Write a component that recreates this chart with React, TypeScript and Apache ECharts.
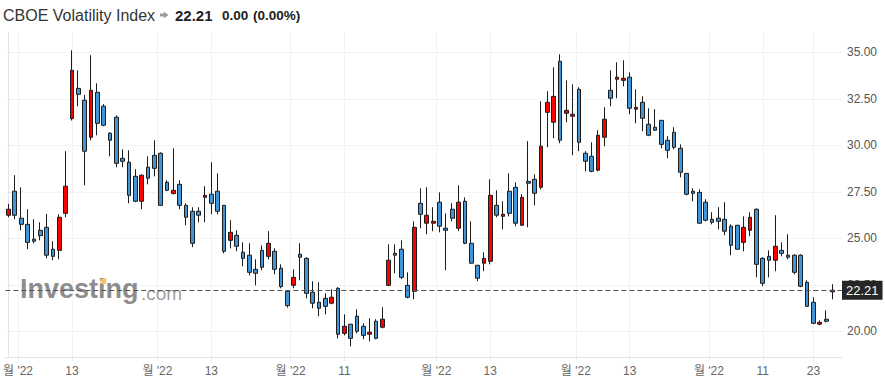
import React, { useEffect, useRef } from 'react';
import * as echarts from 'echarts';

// OHLC values (daily candles)
const opens = [
  26.24, 27.53, 26.08, 25.75, 24.95, 25.43, 25.59, 24.41, 24.35, 26.34,
  31.43, 33.06, 32.42, 30.43, 32.85, 32.10, 30.65, 31.51, 29.30, 29.09,
  28.33, 26.99, 28.82, 29.46, 29.57, 28.01, 27.40, 27.90, 26.77, 26.45,
  26.45, 27.20, 27.37, 27.53, 26.77, 24.89, 25.16, 24.25, 24.09, 23.33,
  24.35, 24.03, 24.30, 23.39, 22.15, 22.47, 24.14, 23.92, 22.10, 21.56,
  21.77, 21.51, 22.31, 19.89, 20.38, 20.81, 20.27, 19.84, 20.54, 20.22,
  22.47, 24.19, 24.41, 22.47, 22.15, 26.88, 25.81, 25.81, 26.94, 25.54,
  26.56, 25.54, 26.99, 24.73, 23.55, 23.66, 23.76, 26.77, 26.18, 27.53,
  27.74, 25.70, 28.06, 28.17, 27.74, 31.77, 31.24, 34.52, 31.72, 31.56,
  33.01, 29.57, 29.41, 28.66, 30.43, 32.96, 33.55, 33.49, 33.66, 31.94,
  32.31, 31.13, 30.97, 31.34, 30.27, 30.70, 29.84, 28.49, 27.53, 27.47,
  26.94, 26.02, 26.08, 26.02, 25.65, 25.70, 24.78, 25.43, 26.56, 23.92,
  24.03, 23.82, 24.35, 24.09, 24.09, 24.09, 22.63, 21.56, 20.38, 20.65,
  22.12,
];
const closes = [
  26.56, 26.24, 25.75, 24.78, 24.84, 25.14, 24.09, 24.03, 26.13, 27.80,
  34.03, 32.74, 29.68, 32.96, 31.18, 31.08, 30.27, 29.03, 29.14, 27.31,
  26.99, 28.39, 28.23, 28.76, 26.77, 27.58, 27.58, 26.77, 26.13, 24.73,
  26.24, 27.31, 26.88, 26.45, 24.30, 25.32, 24.57, 23.92, 23.17, 23.12,
  23.44, 24.73, 23.33, 22.40, 21.38, 22.90, 23.98, 22.04, 21.51, 21.24,
  21.34, 21.83, 19.84, 20.27, 19.62, 20.00, 19.78, 19.95, 19.62, 20.65,
  23.82, 24.09, 22.90, 21.83, 25.59, 26.29, 26.24, 25.91, 25.65, 25.43,
  26.08, 26.94, 24.73, 23.66, 22.85, 23.92, 27.31, 26.24, 26.29, 26.34,
  25.81, 27.20, 27.96, 27.42, 29.95, 32.31, 32.63, 30.27, 31.88, 31.67,
  30.16, 29.14, 28.60, 30.54, 31.40, 32.53, 33.66, 33.60, 31.99, 32.04,
  31.45, 30.54, 30.81, 30.05, 29.73, 29.89, 28.55, 27.37, 27.42, 25.81,
  25.97, 25.86, 25.91, 25.38, 24.62, 24.41, 25.59, 26.13, 23.60, 22.58,
  23.82, 24.57, 24.19, 23.98, 23.17, 22.42, 21.34, 20.43, 20.48, 20.54,
  22.21,
];
const lows = [
  26.13, 26.02, 25.43, 24.41, 24.73, 24.89, 23.93, 23.82, 23.87, 26.13,
  31.33, 32.10, 27.85, 30.27, 30.54, 31.02, 29.41, 28.82, 28.82, 26.88,
  26.94, 26.56, 27.90, 28.33, 26.75, 27.53, 27.37, 26.56, 25.70, 24.52,
  25.86, 25.86, 26.29, 26.29, 24.19, 24.46, 24.30, 23.49, 23.01, 22.47,
  23.28, 23.87, 23.06, 22.31, 21.27, 22.31, 22.74, 21.77, 21.24, 20.81,
  20.91, 21.45, 19.62, 19.78, 19.19, 19.89, 19.57, 19.46, 19.57, 20.16,
  22.42, 23.12, 22.80, 21.77, 21.72, 25.54, 25.22, 25.38, 25.32, 23.28,
  25.91, 25.38, 24.68, 23.64, 22.69, 23.23, 23.60, 26.13, 25.48, 26.18,
  25.65, 25.68, 25.59, 26.77, 27.63, 29.89, 30.38, 30.11, 31.24, 29.46,
  29.68, 28.60, 28.55, 28.60, 29.95, 32.10, 32.53, 33.17, 31.67, 31.18,
  30.75, 30.49, 30.79, 29.84, 29.30, 29.78, 28.28, 27.31, 26.99, 25.79,
  25.91, 25.75, 25.48, 25.16, 24.09, 24.39, 24.30, 25.11, 22.90, 22.42,
  22.90, 23.23, 24.03, 23.87, 23.06, 22.37, 21.32, 20.38, 20.32, 20.48,
  21.72,
];
const highs = [
  26.85, 28.39, 27.74, 26.56, 26.02, 25.86, 26.31, 24.84, 26.29, 29.68,
  35.11, 34.03, 32.71, 34.84, 33.33, 32.21, 30.70, 31.61, 29.78, 29.73,
  28.71, 28.44, 29.41, 30.27, 29.62, 28.12, 29.84, 28.12, 26.88, 26.67,
  26.67, 27.80, 29.09, 28.49, 26.79, 25.97, 25.43, 24.78, 24.73, 23.87,
  24.62, 25.38, 24.46, 23.60, 22.18, 23.33, 24.73, 23.98, 22.69, 22.63,
  22.04, 22.26, 22.37, 20.91, 20.40, 21.18, 20.43, 20.70, 20.65, 21.29,
  24.68, 24.68, 24.89, 23.17, 25.91, 27.69, 27.74, 26.67, 27.47, 26.34,
  26.88, 27.85, 27.20, 25.91, 23.57, 24.25, 28.17, 27.58, 26.99, 28.49,
  28.01, 27.37, 30.22, 28.44, 32.37, 32.90, 34.19, 34.89, 33.49, 33.28,
  33.12, 29.68, 30.16, 30.81, 32.04, 34.03, 34.46, 34.57, 33.92, 33.01,
  32.63, 31.99, 31.94, 31.36, 30.49, 30.97, 30.05, 28.51, 27.69, 27.63,
  27.10, 26.40, 26.67, 26.94, 25.75, 25.72, 26.18, 26.40, 26.61, 23.98,
  24.35, 26.24, 24.78, 25.22, 24.14, 24.14, 22.74, 21.83, 20.59, 21.13,
  22.53,
];

// x-axis tick positions (in category index units) and their labels
const xTickValues = [1.5, 10, 23.5, 32, 44.5, 53, 67.5, 76, 89.5, 98, 110.5, 119, 127];
const xTickLabels = ["월 '22", '13', "월 '22", '13', "월 '22", '11', "월 '22", '13', "월 '22", '13', "월 '22", '11', '23'];
const yTickValues = [20, 22.5, 25, 27.5, 30, 32.5, 35];
const lastPrice = 22.21;
const titleName = 'CBOE Volatility Index';
const titlePrice = '22.21';
const titleChange = '0.00';
const titlePct = '(0.00%)';

function weekdayDates(start: string, count: number): string[] {
  const out: string[] = [];
  const d = new Date(start + 'T00:00:00Z');
  while (out.length < count) {
    const wd = d.getUTCDay();
    if (wd !== 0 && wd !== 6) out.push(d.toISOString().slice(0, 10));
    d.setUTCDate(d.getUTCDate() + 1);
  }
  return out;
}

const FONT = '"Liberation Sans", Arial, "Noto Sans CJK KR", sans-serif';

export default function App() {
  const ref = useRef<HTMLDivElement>(null);
  useEffect(() => {
    if (!ref.current) return;
    const chart = echarts.init(ref.current, undefined, { renderer: 'svg' });
    const dates = weekdayDates('2022-05-30', opens.length + 1);
    const data = opens.map((o, i) => [o, closes[i], lows[i], highs[i]]);
    chart.setOption({
      animation: false,
      backgroundColor: '#ffffff',
      grid: { left: 4.1, right: 43, top: 32, bottom: 25.3, containLabel: false },
      xAxis: [
        { type: 'category', data: dates, show: false, boundaryGap: true },
        {
          type: 'value',
          min: -0.5,
          max: dates.length - 0.5,
          position: 'bottom',
          axisLine: { show: true, lineStyle: { color: '#e0e3eb', width: 1 } },
          axisTick: { show: true, length: 3, customValues: xTickValues, lineStyle: { color: '#e0e3eb' } },
          axisLabel: {
            customValues: xTickValues,
            formatter: (v: number) => {
              const k = xTickValues.indexOf(v);
              return k >= 0 ? xTickLabels[k] : '';
            },
            color: '#666666',
            fontSize: 12,
            margin: 7,
            fontFamily: FONT,
          },
          splitLine: { show: true, lineStyle: { color: '#f3f3f3', width: 1 } },
        },
      ],
      yAxis: {
        type: 'value',
        position: 'right',
        min: 18.58,
        max: 36.09,
        axisLine: { show: true, lineStyle: { color: '#e0e3eb', width: 1 } },
        axisTick: { show: true, length: 3, customValues: yTickValues, lineStyle: { color: '#e0e3eb' } },
        axisLabel: {
          customValues: yTickValues,
          formatter: (v: number) => v.toFixed(2),
          color: '#555555',
          fontSize: 12,
          margin: 5,
          fontFamily: FONT,
        },
        splitLine: { show: true, lineStyle: { color: '#f3f3f3', width: 1 } },
      },
      graphic: [
        { type: 'text', x: 3, y: 15, style: { text: titleName, font: '16px ' + FONT, fill: '#333333', textVerticalAlign: 'middle' } },
        {
          type: 'polygon',
          shape: { points: [[160, 13.6], [163.8, 13.6], [163.8, 11.6], [168.4, 15], [163.8, 18.4], [163.8, 16.4], [160, 16.4]] },
          style: { fill: '#9a9a9a' },
        },
        { type: 'text', x: 175, y: 15, style: { text: titlePrice, font: 'bold 15px ' + FONT, fill: '#222222', textVerticalAlign: 'middle' } },
        { type: 'text', x: 222, y: 15.5, style: { text: titleChange, font: 'bold 13.5px ' + FONT, fill: '#222222', textVerticalAlign: 'middle' } },
        { type: 'text', x: 253, y: 15.5, style: { text: titlePct, font: 'bold 13.5px ' + FONT, fill: '#222222', textVerticalAlign: 'middle' } },
        { type: 'text', x: 20, y: 289, z: 1, style: { text: 'Investing', font: 'bold 27px ' + FONT, fill: 'rgba(120,120,120,0.85)', textVerticalAlign: 'middle' } },
        { type: 'text', x: 141, y: 293, z: 1, style: { text: '.com', font: '19px ' + FONT, fill: 'rgba(140,140,140,0.85)', textVerticalAlign: 'middle' } },
        { type: 'polygon', z: 1, shape: { points: [[101, 279], [106.5, 278], [106, 284], [100.5, 284]] }, style: { fill: '#fcc063' } },
      ],
      series: [
        {
          type: 'candlestick',
          xAxisIndex: 0,
          yAxisIndex: 0,
          data,
          barWidth: 4.2,
          itemStyle: {
            color: '#ff0000',
            color0: '#4094d8',
            borderColor: '#1c1c1c',
            borderColor0: '#1c1c1c',
            borderWidth: 1,
          },
          markLine: {
            silent: true,
            symbol: ['none', 'none'],
            z: 10,
            lineStyle: { color: '#555555', type: [5, 3], width: 1 },
            label: {
              show: true,
              position: 'end',
              distance: 0,
              formatter: lastPrice.toFixed(2),
              backgroundColor: '#262626',
              color: '#ffffff',
              fontSize: 13,
              fontFamily: FONT,
              padding: [3, 4, 3, 4],
            },
            data: [{ yAxis: lastPrice }],
          },
        },
      ],
    });
    return () => chart.dispose();
  }, []);
  return <div ref={ref} style={{ position: 'fixed', left: 0, top: 0, width: 885, height: 383 }} />;
}
